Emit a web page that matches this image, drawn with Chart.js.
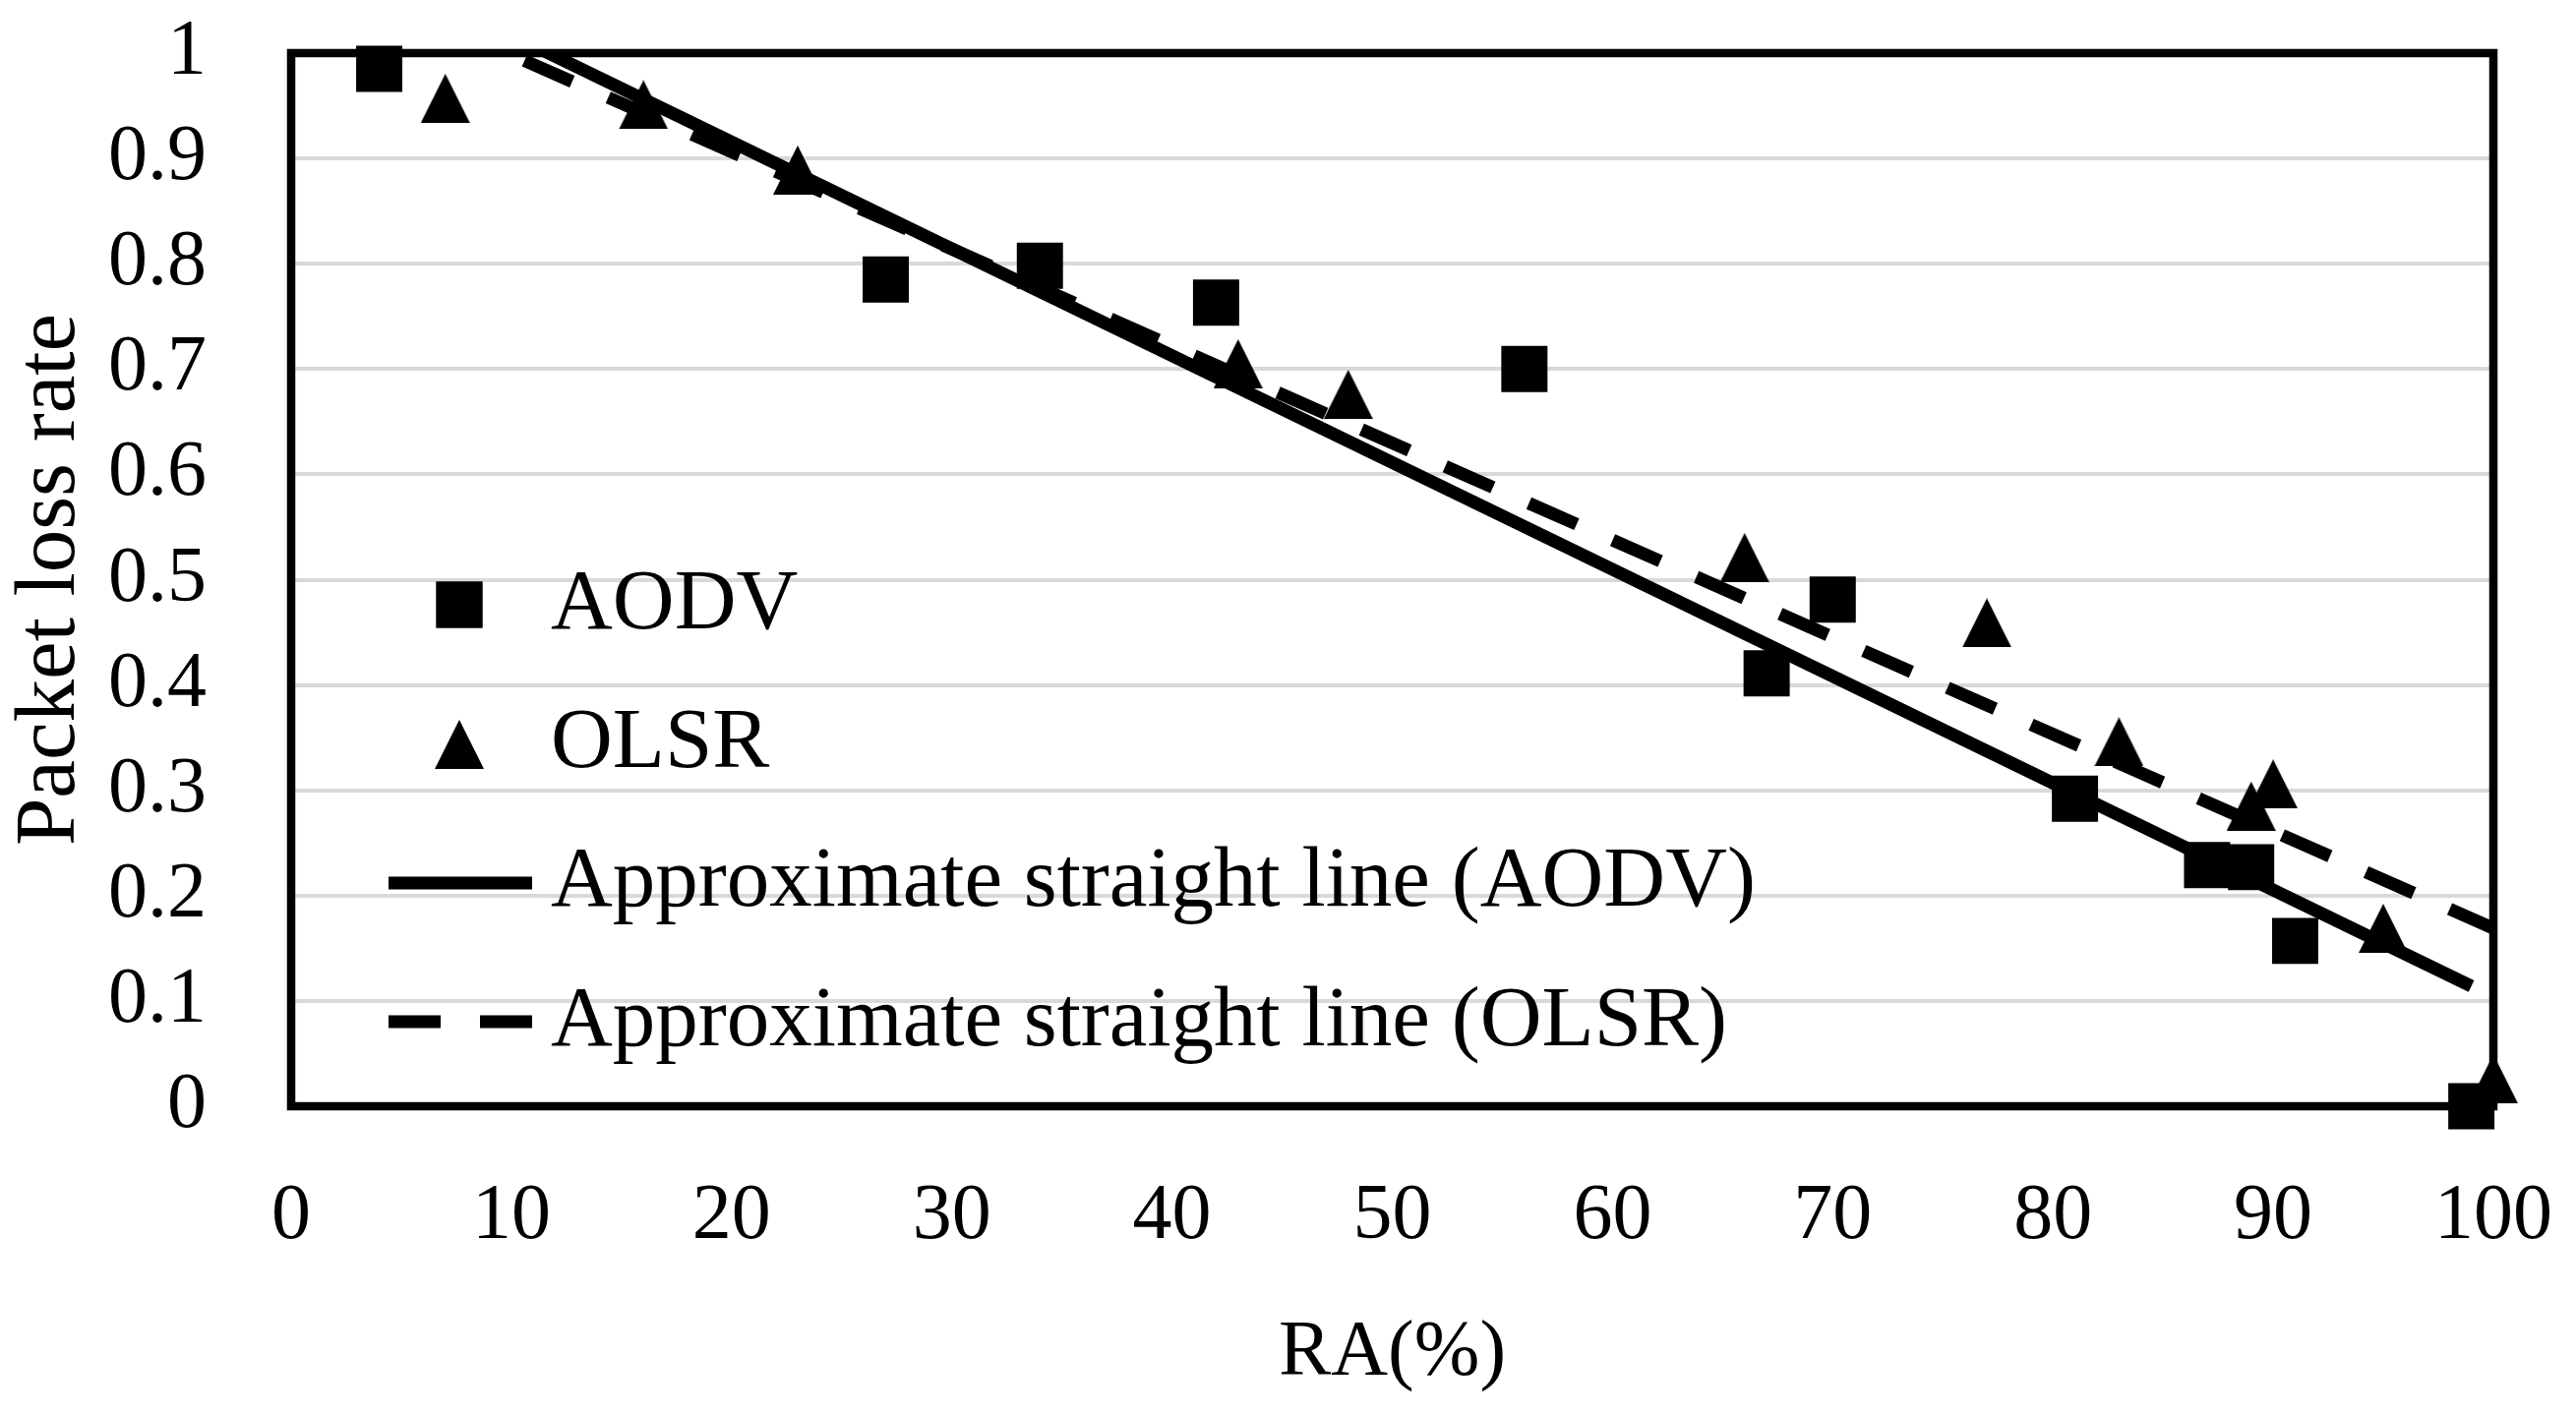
<!DOCTYPE html>
<html lang="en">
<head>
    <meta charset="UTF-8">
    <title>Packet loss rate vs RA</title>
    <style>
        body {
            margin: 0;
            background: #fff;
        }
        .container {
            width: 2619px;
            height: 1439px;
            position: relative;
        }
    </style>
</head>
<body>
    <div class="container">
        <canvas id="lossChart"></canvas>
    </div>

    <script src="https://cdn.jsdelivr.net/npm/chart.js"></script>
    <script>
        // measured points
        const aodvX = [4, 27, 34, 42, 56, 67, 70, 81, 87, 89, 91, 99];
        const aodvY = [0.985, 0.785, 0.798, 0.763, 0.700, 0.411, 0.481, 0.292, 0.229, 0.227, 0.157, 0.0];
        const olsrX = [7, 16, 23, 43, 48, 66, 77, 83, 89, 90, 95, 100];
        const olsrY = [0.957, 0.951, 0.889, 0.705, 0.676, 0.521, 0.459, 0.346, 0.285, 0.306, 0.169, 0.026];

        // approximate straight lines (end points)
        const aodvFitX = [4, 99];
        const aodvFitY = [1.078, 0.114];
        const olsrFitX = [7, 100];
        const olsrFitY = [1.026, 0.169];

        const legendLabels = ['AODV', 'OLSR', 'Approximate straight line (AODV)', 'Approximate straight line (OLSR)'];

        const FONT = '"Liberation Serif", "Times New Roman", serif';

        function toPoints(xs, ys) {
            return xs.map((x, i) => ({ x: x, y: ys[i] }));
        }

        // excel-like triangle marker (as wide as it is tall)
        const tri = document.createElement('canvas');
        tri.width = 50;
        tri.height = 50;
        const tctx = tri.getContext('2d');
        tctx.fillStyle = '#000';
        tctx.beginPath();
        tctx.moveTo(25, 0);
        tctx.lineTo(50, 50);
        tctx.lineTo(0, 50);
        tctx.closePath();
        tctx.fill();

        const frame = {
            id: 'frame',
            beforeDatasetsDraw(chart) {
                const { ctx, chartArea: a } = chart;
                ctx.save();
                ctx.lineWidth = 8.5;
                ctx.strokeStyle = '#000';
                ctx.strokeRect(a.left, a.top, a.right - a.left, a.bottom - a.top);
                ctx.restore();
            }
        };

        const insideLegend = {
            id: 'insideLegend',
            afterDraw(chart) {
                const { ctx, chartArea: a } = chart;
                const mx = a.left + 171;
                const tx = a.left + 264;
                const rows = [561, 703, 844, 985];
                ctx.save();
                ctx.fillStyle = '#000';
                ctx.strokeStyle = '#000';

                Chart.helpers.drawPoint(ctx, { pointStyle: 'rect', radius: 33.2, borderWidth: 0 }, mx, a.top + rows[0]);
                ctx.fill();
                ctx.drawImage(tri, mx - 25, a.top + rows[1] - 25);

                ctx.lineWidth = 13;
                ctx.beginPath();
                ctx.moveTo(mx - 72, a.top + rows[2]);
                ctx.lineTo(mx + 74, a.top + rows[2]);
                ctx.stroke();

                ctx.setLineDash([53, 40]);
                ctx.beginPath();
                ctx.moveTo(mx - 72, a.top + rows[3]);
                ctx.lineTo(mx + 74, a.top + rows[3]);
                ctx.stroke();
                ctx.setLineDash([]);

                ctx.font = '87px ' + FONT;
                ctx.textAlign = 'left';
                ctx.textBaseline = 'alphabetic';
                const base = [585, 726, 867, 1009];
                legendLabels.forEach((t, i) => ctx.fillText(t, tx, a.top + base[i]));
                ctx.restore();
            }
        };

        new Chart(document.getElementById('lossChart'), {
            type: 'scatter',
            data: {
                datasets: [
                    {
                        label: legendLabels[0],
                        data: toPoints(aodvX, aodvY),
                        pointStyle: 'rect',
                        pointRadius: 33.2,
                        pointBorderWidth: 0,
                        backgroundColor: '#000',
                        borderColor: '#000',
                        clip: false
                    },
                    {
                        label: legendLabels[1],
                        data: toPoints(olsrX, olsrY),
                        pointStyle: tri,
                        pointRadius: 25,
                        backgroundColor: '#000',
                        borderColor: '#000',
                        clip: false
                    },
                    {
                        label: legendLabels[2],
                        type: 'line',
                        data: toPoints(aodvFitX, aodvFitY),
                        borderColor: '#000',
                        borderWidth: 13,
                        pointRadius: 0,
                        fill: false,
                        clip: 0
                    },
                    {
                        label: legendLabels[3],
                        type: 'line',
                        data: toPoints(olsrFitX, olsrFitY),
                        borderColor: '#000',
                        borderWidth: 13,
                        borderDash: [53, 40],
                        borderDashOffset: 5,
                        pointRadius: 0,
                        fill: false,
                        clip: 0
                    }
                ]
            },
            options: {
                responsive: true,
                maintainAspectRatio: false,
                animation: false,
                layout: {
                    padding: { top: 54, right: 84, left: 0, bottom: 0 }
                },
                plugins: {
                    legend: { display: false },
                    tooltip: { enabled: false }
                },
                scales: {
                    x: {
                        type: 'linear',
                        min: 0,
                        max: 100,
                        afterFit: (scale) => { scale.height = 314; },
                        grid: { display: false, drawTicks: true, tickLength: 65, tickColor: 'transparent' },
                        border: { display: false },
                        ticks: {
                            stepSize: 10,
                            padding: 0,
                            color: '#000',
                            maxRotation: 0,
                            font: { family: FONT, size: 80 }
                        },
                        title: {
                            display: true,
                            text: 'RA(%)',
                            color: '#000',
                            padding: { top: 0, bottom: 14 },
                            font: { family: FONT, size: 80 }
                        }
                    },
                    y: {
                        min: 0,
                        max: 1,
                        afterFit: (scale) => { scale.width = 296; },
                        grid: { color: '#d9d9d9', lineWidth: 4, drawTicks: true, tickLength: 86, tickColor: 'transparent' },
                        border: { display: false },
                        ticks: {
                            stepSize: 0.1,
                            padding: 0,
                            color: '#000',
                            font: { family: FONT, size: 80 },
                            callback: (v) => Number(v.toFixed(1)).toString()
                        },
                        title: {
                            display: true,
                            text: 'Packet loss rate',
                            color: '#000',
                            padding: 0,
                            font: { family: FONT, size: 87 }
                        }
                    }
                }
            },
            plugins: [frame, insideLegend]
        });
    </script>
</body>
</html>
